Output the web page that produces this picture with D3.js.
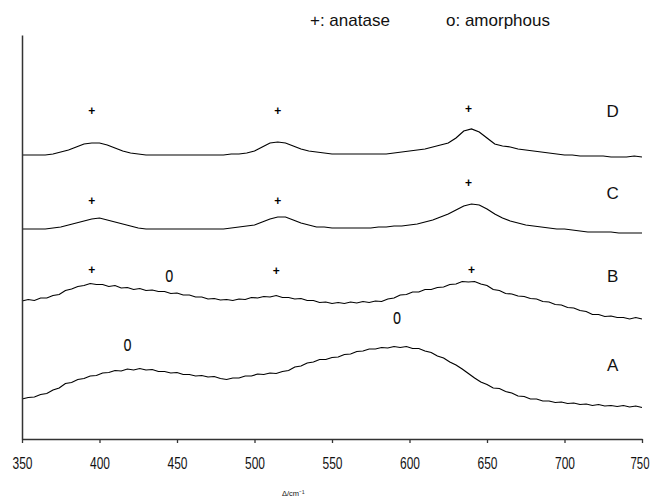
<!DOCTYPE html>
<html>
<head>
<meta charset="utf-8">
<script src="https://cdn.jsdelivr.net/npm/d3@7"></script>
<style>
  html, body { margin: 0; padding: 0; background: #fff; }
  svg { display: block; }
</style>
</head>
<body>
<svg id="chart" width="654" height="498"></svg>
<script>
// ---------- data ----------
const xTicks = [350, 400, 450, 500, 550, 600, 650, 700, 750];
const wnSmooth = d3.range(350, 751, 5);   // grid for C and D
const wnNoisy  = d3.range(350, 751, 4);   // grid for A and B

const seriesD = [
  284,284,284,284,285,287,289,292,295,296,
  296,294,291,288,286,285,284,284,284,284,
  284,284,284,284,284,284,284,285,285,286,
  288,292,296,297,296,293,290,288,287,286,
  285,285,285,285,285,285,285,285,286,287,
  288,289,290,292,294,296,301,308,310,307,
  301,295,293,292,290,289,288,287,286,285,
  284,284,283,283,283,283,282,282,282,283,
  282
];
const seriesC = [
  210,210,210,210,211,212,214,216,218,220,
  221,219,217,215,213,211,210,210,210,210,
  210,210,210,210,210,210,210,211,212,213,
  214,217,220,222,222,219,216,214,212,212,
  211,211,211,211,211,211,212,212,213,213,
  214,215,217,219,222,225,229,233,235,234,
  230,225,221,218,216,214,213,212,211,210,
  210,209,208,207,207,207,207,206,206,206,
  206
];
const seriesB = [
  138,139.5,138.5,141,141,143.5,144.5,148.5,150,152.5,
  153.5,155.5,154.5,154.5,152.5,153.5,151,151.5,149.5,150.5,
  148.5,149,147.5,147.5,145.5,146,144,144,142,142,
  140,140.5,139,139.5,138.5,140,139.5,141.5,141,142.5,
  142,143.5,141.5,141.5,140,140.5,138.5,138.5,136.5,137,
  135.5,136.5,135.5,137,136,137.5,136.5,138,137.5,140,
  141,144,144.5,147,147,149.5,149.5,151.5,152,154.5,
  155,157.5,157,157.5,155,153.5,149.5,148.5,145.5,145,
  143,142.5,140.5,140,137.5,137,134.5,134,131.5,131,
  128.5,127.5,124.5,124.5,122.5,123,121.5,121.5,120,121.5,
  120
];
const seriesA = [
  40,41.5,42,44.5,45.5,49,51,55.5,56.5,59.5,
  60.5,63,63.5,66,66.5,68.5,68,70,69,70.5,
  69,69.5,67.5,67.5,66,66.5,64.5,64.5,63,63.5,
  62,62.5,60.5,59.5,61,61,63,63,65,64.5,
  66,65.5,67.5,68.5,72,73,76,77,79.5,79.5,
  81.5,82,84.5,85,87.5,88,90,90,91.5,91,
  92.5,91.5,92.5,90.5,90.5,88,86.5,83,81,77,
  74,70,65.5,61,57,54.5,51,50.5,47.5,46,
  43,42.5,40,40,38,38,36.5,37,35.5,36,
  34.5,35,33.5,34.5,33,33.5,32.5,33.5,32,33,
  31.5
];

const sampleNames = ["D", "C", "B", "A"];
const sampleLabelAt = [[731, 328], [731, 246], [731, 163], [731, 74]];
const anataseMarks = [[395,328],[515,328],[638,330],[395,238],[515,238],[638,256],[395,169],[514,168],[640,169]];
const amorphousMarks = [[445,163],[418,94],[592,121]];
const legendTexts = ["+: anatase", "o: amorphous"];
const xLabel = "Δ/cm⁻¹";

// ---------- drawing ----------
const svg = d3.select("#chart");
const x = d3.scaleLinear().domain([350, 750]).range([22, 642]);
const y = d3.scaleLinear().domain([0, 404]).range([439, 35]);

const line = d3.line().x(d => x(d[0])).y(d => y(d[1]));
const spectra = [
  d3.zip(wnSmooth, seriesD),
  d3.zip(wnSmooth, seriesC),
  d3.zip(wnNoisy, seriesB),
  d3.zip(wnNoisy, seriesA)
];

svg.append("g").selectAll("path").data(spectra).join("path")
  .attr("d", line)
  .attr("fill", "none")
  .attr("stroke", "#000")
  .attr("stroke-width", 1.2)
  .attr("stroke-linejoin", "miter");

// axes
const xAxis = svg.append("g")
  .attr("transform", `translate(0,${y(0)})`)
  .call(d3.axisBottom(x).tickValues(xTicks).tickFormat(d3.format("d"))
        .tickSize(4).tickPadding(15).tickSizeOuter(0));
xAxis.select(".domain").attr("stroke", "#333").attr("stroke-width", 1.5);
xAxis.selectAll(".tick line").attr("stroke", "#333").attr("stroke-width", 1.3);
xAxis.selectAll(".tick text")
  .attr("font-family", "'Liberation Sans', Arial, sans-serif")
  .attr("font-size", 16).attr("fill", "#111")
  .attr("textLength", 20).attr("lengthAdjust", "spacingAndGlyphs");
// keep the last label inside the frame
xAxis.selectAll(".tick text").filter(d => d === 750)
  .attr("text-anchor", "end").attr("x", 7)
  .attr("textLength", 19);

const yAxis = svg.append("g")
  .attr("transform", `translate(${x(350)},0)`)
  .call(d3.axisLeft(y).tickValues([]).tickSize(0).tickSizeOuter(0));
yAxis.select(".domain").attr("stroke", "#333").attr("stroke-width", 1.5);

// x label
svg.append("text")
  .attr("x", x(525)).attr("y", 496)
  .attr("text-anchor", "middle")
  .attr("font-family", "'Liberation Sans', Arial, sans-serif")
  .attr("font-size", 7.5).attr("fill", "#111")
  .text(xLabel);

// markers
svg.append("g").selectAll("text").data(anataseMarks).join("text")
  .attr("x", d => x(d[0])).attr("y", d => y(d[1]))
  .attr("dy", "0.35em")
  .attr("text-anchor", "middle")
  .attr("font-family", "'Liberation Sans', Arial, sans-serif")
  .attr("font-weight", "bold")
  .attr("font-size", 12).attr("fill", "#000")
  .text("+");

svg.append("g").selectAll("text").data(amorphousMarks).join("text")
  .attr("transform", d => `translate(${x(d[0])},${y(d[1])}) scale(0.85,1.3)`)
  .attr("dy", "0.26em")
  .attr("text-anchor", "middle")
  .attr("font-family", "'Liberation Sans', Arial, sans-serif")
  .attr("font-size", 17).attr("fill", "#111")
  .text("o");

svg.append("g").selectAll("text").data(sampleNames).join("text")
  .attr("x", (d, i) => x(sampleLabelAt[i][0])).attr("y", (d, i) => y(sampleLabelAt[i][1]))
  .attr("dy", "0.36em")
  .attr("text-anchor", "middle")
  .attr("font-family", "'Liberation Sans', Arial, sans-serif")
  .attr("font-size", 17).attr("fill", "#111")
  .text(d => d);

// legend
svg.append("g").selectAll("text").data(legendTexts).join("text")
  .attr("x", (d, i) => [310, 446][i]).attr("y", 25.5)
  .attr("font-family", "'Liberation Sans', Arial, sans-serif")
  .attr("font-size", 17).attr("fill", "#111")
  .text(d => d);
</script>
</body>
</html>
